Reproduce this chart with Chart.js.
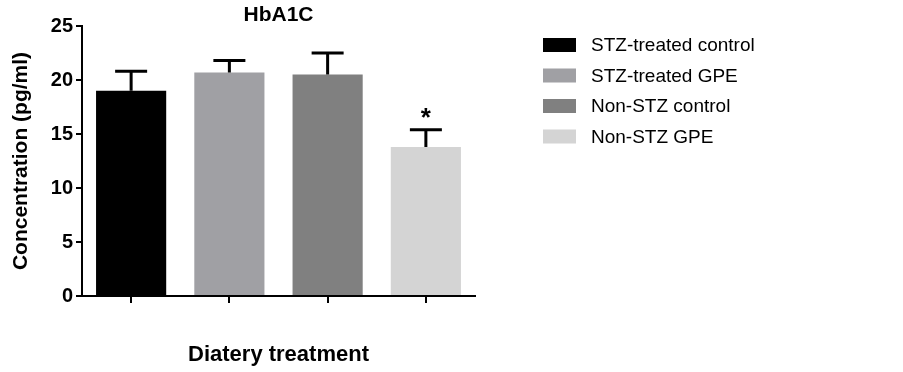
<!DOCTYPE html>
<html>
<head>
<meta charset="utf-8">
<script src="https://cdn.jsdelivr.net/npm/chart.js@4"></script>
<style>
  html, body { margin: 0; padding: 0; background: #fff; }
  #wrap { width: 903px; height: 372px; }
</style>
</head>
<body>
<div id="wrap"><canvas id="myChart" width="903" height="372"></canvas></div>
<script>
// data
var groups = ["STZ-treated control", "STZ-treated GPE", "Non-STZ control", "Non-STZ GPE"];
var means = [19.0, 20.7, 20.5, 13.8];
var errors = [1.8, 1.1, 2.0, 1.6];
var marks = ["", "", "", "*"];
var barColors = ["#000000", "#a0a0a4", "#808080", "#d4d4d4"];
var yMin = 0, yMax = 25, yStep = 5;

var FONT = "'Liberation Sans', Arial, Helvetica, sans-serif";

/*draws the up-only error bars and the significance marks*/
var errorBars = {
  id: 'errorBars',
  afterDatasetsDraw: function(chart) {
    var ctx = chart.ctx;
    var meta = chart.getDatasetMeta(0);
    var ys = chart.scales.y;
    ctx.save();
    ctx.strokeStyle = '#000';
    ctx.lineWidth = 3;
    for (var i = 0; i < means.length; i++) {
      var x = meta.data[i].x;
      var yTop = ys.getPixelForValue(means[i] + errors[i]);
      var yBar = ys.getPixelForValue(means[i]);
      ctx.beginPath();
      ctx.moveTo(x, yBar);
      ctx.lineTo(x, yTop);
      ctx.moveTo(x - 16, yTop);
      ctx.lineTo(x + 16, yTop);
      ctx.stroke();
      if (marks[i]) {
        ctx.fillStyle = '#000';
        ctx.font = 'bold 26px ' + FONT;
        ctx.textAlign = 'center';
        ctx.textBaseline = 'alphabetic';
        ctx.fillText(marks[i], x, yTop - 4);
      }
    }
    ctx.restore();
  }
};

/*title and legend at the side*/
var sideLegend = {
  id: 'sideLegend',
  afterDraw: function(chart) {
    var ctx = chart.ctx;
    var area = chart.chartArea;
    ctx.save();
    ctx.fillStyle = '#000';
    ctx.font = 'bold 21px ' + FONT;
    ctx.textAlign = 'center';
    ctx.textBaseline = 'middle';
    ctx.fillText('HbA1C', (area.left + area.right) / 2, 15);

    ctx.font = '19px ' + FONT;
    ctx.textAlign = 'left';
    for (var i = 0; i < groups.length; i++) {
      var cy = 45 + i * 30.5;
      ctx.fillStyle = barColors[i];
      ctx.fillRect(543, cy - 7, 33, 14);
      ctx.fillStyle = '#000';
      ctx.fillText(groups[i], 591, cy + 1);
    }
    ctx.restore();
  }
};

var ctx = document.getElementById('myChart').getContext('2d');
var myChart = new Chart(ctx, {
  type: 'bar',
  data: {
    labels: groups,
    datasets: [{
      data: means,
      backgroundColor: barColors,
      borderWidth: 0,
      barPercentage: 0.714,
      categoryPercentage: 1.0
    }]
  },
  options: {
    responsive: false,
    animation: false,
    devicePixelRatio: 1,
    layout: { padding: { top: 26, right: 428, left: 0, bottom: 0 } },
    plugins: {
      legend: { display: false },
      title: { display: false },
      tooltip: { enabled: false }
    },
    scales: {
      x: {
        offset: true,
        grid: { display: true, offset: false, drawOnChartArea: false, drawTicks: true, tickLength: 7, color: '#000', lineWidth: 2 },
        border: { display: true, color: '#000', width: 2 },
        ticks: { callback: function() { return ''; } },
        title: { display: true, text: 'Diatery treatment', color: '#000', font: { family: FONT, size: 22, weight: 'bold' }, padding: { top: 0, bottom: 4 } },
        afterFit: function(s) { s.height = 76; }
      },
      y: {
        min: yMin,
        max: yMax,
        ticks: { stepSize: yStep, color: '#000', padding: 3, font: { family: FONT, size: 20, weight: 'bold' } },
        grid: { display: true, drawOnChartArea: false, drawTicks: true, tickLength: 6, color: '#000', lineWidth: 2 },
        border: { display: true, color: '#000', width: 2 },
        title: { display: true, text: 'Concentration (pg/ml)', color: '#000', font: { family: FONT, size: 21, weight: 'bold' }, padding: { top: 9, bottom: 0 } },
        afterFit: function(s) { s.width = 82; }
      }
    }
  },
  plugins: [errorBars, sideLegend]
});
</script>
</body>
</html>
